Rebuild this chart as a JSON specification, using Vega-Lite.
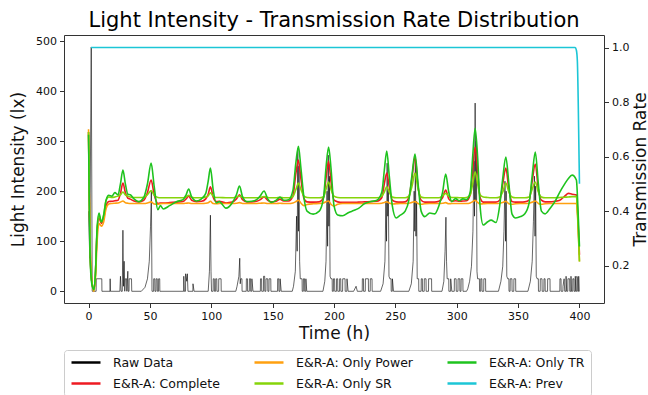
{
  "$schema": "https://vega.github.io/schema/vega-lite/v6.json",
  "width": 540,
  "height": 268,
  "autosize": {"type": "none"},
  "padding": {"left": 64, "top": 35, "right": 44, "bottom": 92},
  "title": {
    "text": "Light Intensity - Transmission Rate Distribution",
    "font": "DejaVu Sans",
    "fontSize": 21,
    "fontWeight": "normal",
    "color": "black",
    "anchor": "middle",
    "offset": 4
  },
  "datasets": {
    "raw": [
      {"t":0,"lx":160},{"t":1,"lx":66},{"t":2.2,"lx":488},{"t":3,"lx":0},{"t":6.2,"lx":0},{"t":6.3,"lx":25},{"t":10.8,"lx":25},{"t":10.9,"lx":0},
      {"t":17.5,"lx":0},{"t":17.6,"lx":25},{"t":17.8,"lx":0},{"t":25.5,"lx":0},{"t":26,"lx":30},{"t":26.5,"lx":0},{"t":27.5,"lx":0},{"t":28,"lx":122},
      {"t":28.5,"lx":10},{"t":29,"lx":60},{"t":29.5,"lx":0},{"t":30,"lx":25},{"t":31,"lx":25},{"t":31.2,"lx":0},{"t":32,"lx":40},{"t":32.3,"lx":0},
      {"t":33,"lx":0},{"t":33.1,"lx":25},{"t":35,"lx":25},{"t":35.2,"lx":0},{"t":43,"lx":0},{"t":46,"lx":8},{"t":48,"lx":25},{"t":49.5,"lx":60},
      {"t":50.5,"lx":130},{"t":51.2,"lx":200},{"t":51.7,"lx":0},{"t":53,"lx":0},{"t":53.1,"lx":25},{"t":54,"lx":25},{"t":54.1,"lx":0},{"t":55,"lx":0},
      {"t":55.1,"lx":25},{"t":56,"lx":25},{"t":56.1,"lx":0},{"t":57,"lx":0},{"t":57.1,"lx":25},{"t":58,"lx":25},{"t":58.1,"lx":0},{"t":77.5,"lx":0},
      {"t":77.6,"lx":30},{"t":78,"lx":0},{"t":79,"lx":0},{"t":79.1,"lx":35},{"t":80,"lx":20},{"t":80.5,"lx":35},{"t":81,"lx":0},{"t":85,"lx":0},
      {"t":85.1,"lx":15},{"t":86,"lx":0},{"t":97.5,"lx":0},{"t":98.5,"lx":40},{"t":99.3,"lx":152},{"t":99.8,"lx":40},{"t":100.2,"lx":0},{"t":101.5,"lx":0},
      {"t":101.6,"lx":25},{"t":102.5,"lx":25},{"t":102.6,"lx":0},{"t":103.5,"lx":0},{"t":103.6,"lx":25},{"t":104.5,"lx":25},{"t":104.6,"lx":0},{"t":106,"lx":0},
      {"t":106.1,"lx":25},{"t":108,"lx":25},{"t":108.1,"lx":0},{"t":120,"lx":0},{"t":121,"lx":10},{"t":122.5,"lx":30},{"t":123.2,"lx":66},{"t":123.6,"lx":15},
      {"t":124,"lx":25},{"t":125,"lx":25},{"t":125.1,"lx":0},{"t":128.5,"lx":0},{"t":128.6,"lx":25},{"t":129.5,"lx":25},{"t":129.6,"lx":0},{"t":131,"lx":0},
      {"t":131.1,"lx":25},{"t":132,"lx":25},{"t":132.1,"lx":0},{"t":133,"lx":0},{"t":133.1,"lx":25},{"t":134,"lx":0},{"t":140,"lx":0},{"t":140.1,"lx":25},
      {"t":141,"lx":25},{"t":141.1,"lx":0},{"t":142.5,"lx":0},{"t":142.6,"lx":30},{"t":143.5,"lx":30},{"t":143.6,"lx":0},{"t":144.5,"lx":0},{"t":144.6,"lx":25},
      {"t":146,"lx":25},{"t":146.1,"lx":0},{"t":147,"lx":0},{"t":147.1,"lx":25},{"t":148.5,"lx":25},{"t":148.6,"lx":0},{"t":154,"lx":0},{"t":154.1,"lx":25},
      {"t":155,"lx":25},{"t":155.1,"lx":0},{"t":156,"lx":0},{"t":156.1,"lx":25},{"t":157,"lx":0},{"t":166,"lx":0},{"t":167,"lx":10},{"t":168.5,"lx":40},
      {"t":169.5,"lx":150},{"t":170,"lx":80},{"t":170.5,"lx":285},{"t":171,"lx":120},{"t":171.5,"lx":250},{"t":172,"lx":60},{"t":172.5,"lx":25},{"t":174,"lx":25},
      {"t":174.1,"lx":0},{"t":175,"lx":0},{"t":175.1,"lx":25},{"t":176,"lx":25},{"t":176.1,"lx":0},{"t":177,"lx":0},{"t":177.1,"lx":25},{"t":177.8,"lx":0},
      {"t":191,"lx":0},{"t":192.5,"lx":20},{"t":193.5,"lx":60},{"t":194.3,"lx":200},{"t":194.8,"lx":90},{"t":195.3,"lx":272},{"t":195.8,"lx":130},{"t":196.3,"lx":230},
      {"t":196.8,"lx":30},{"t":197.5,"lx":25},{"t":198.5,"lx":25},{"t":198.6,"lx":0},{"t":199.5,"lx":0},{"t":199.6,"lx":25},{"t":200.5,"lx":25},{"t":200.6,"lx":0},
      {"t":202,"lx":0},{"t":202.1,"lx":25},{"t":203,"lx":25},{"t":203.1,"lx":0},{"t":204.5,"lx":0},{"t":204.6,"lx":25},{"t":205.5,"lx":25},{"t":205.6,"lx":0},
      {"t":207,"lx":0},{"t":207.1,"lx":25},{"t":209,"lx":25},{"t":209.1,"lx":0},{"t":210.5,"lx":0},{"t":210.6,"lx":25},{"t":211.5,"lx":0},{"t":216,"lx":0},
      {"t":218,"lx":10},{"t":219,"lx":0},{"t":223,"lx":0},{"t":223.1,"lx":25},{"t":224,"lx":25},{"t":224.1,"lx":0},{"t":225.5,"lx":0},{"t":225.6,"lx":25},
      {"t":228,"lx":25},{"t":228.1,"lx":0},{"t":229.5,"lx":0},{"t":229.6,"lx":25},{"t":231,"lx":25},{"t":231.1,"lx":0},{"t":238,"lx":0},{"t":240,"lx":15},
      {"t":241.5,"lx":60},{"t":242.3,"lx":180},{"t":242.8,"lx":100},{"t":243.3,"lx":256},{"t":243.8,"lx":150},{"t":244.3,"lx":200},{"t":244.8,"lx":30},{"t":245.5,"lx":25},
      {"t":246.5,"lx":25},{"t":246.6,"lx":0},{"t":247.5,"lx":0},{"t":247.6,"lx":25},{"t":248.5,"lx":0},{"t":261,"lx":0},{"t":263,"lx":15},{"t":264.5,"lx":60},
      {"t":265.3,"lx":200},{"t":265.8,"lx":120},{"t":266.3,"lx":262},{"t":266.8,"lx":110},{"t":267.3,"lx":180},{"t":267.8,"lx":25},{"t":269,"lx":25},{"t":269.1,"lx":0},
      {"t":271,"lx":0},{"t":271.1,"lx":25},{"t":272,"lx":25},{"t":272.1,"lx":0},{"t":273.5,"lx":0},{"t":273.6,"lx":25},{"t":275,"lx":25},{"t":275.1,"lx":0},
      {"t":277,"lx":0},{"t":277.1,"lx":25},{"t":279.5,"lx":25},{"t":279.6,"lx":0},{"t":288,"lx":0},{"t":289.5,"lx":20},{"t":290.5,"lx":80},{"t":291.2,"lx":148},
      {"t":291.7,"lx":60},{"t":292.2,"lx":25},{"t":293.5,"lx":25},{"t":293.6,"lx":0},{"t":295,"lx":0},{"t":295.1,"lx":25},{"t":296,"lx":0},{"t":298,"lx":0},
      {"t":298.1,"lx":25},{"t":299.5,"lx":25},{"t":299.6,"lx":0},{"t":301,"lx":0},{"t":301.1,"lx":25},{"t":302.5,"lx":25},{"t":302.6,"lx":0},{"t":303.5,"lx":0},
      {"t":303.6,"lx":25},{"t":305,"lx":25},{"t":305.1,"lx":0},{"t":308,"lx":0},{"t":309,"lx":5},{"t":310.5,"lx":20},{"t":312,"lx":50},{"t":313.2,"lx":120},
      {"t":314,"lx":260},{"t":314.5,"lx":150},{"t":315,"lx":376},{"t":315.5,"lx":180},{"t":316,"lx":300},{"t":316.5,"lx":40},{"t":317,"lx":25},{"t":318.5,"lx":25},
      {"t":318.6,"lx":0},{"t":319.5,"lx":0},{"t":319.6,"lx":25},{"t":320.5,"lx":25},{"t":320.6,"lx":0},{"t":322,"lx":0},{"t":322.1,"lx":25},{"t":323.5,"lx":25},
      {"t":323.6,"lx":0},{"t":334,"lx":0},{"t":336,"lx":20},{"t":337.5,"lx":50},{"t":338.5,"lx":120},{"t":339.3,"lx":220},{"t":339.8,"lx":100},{"t":340.3,"lx":200},
      {"t":340.8,"lx":30},{"t":341.5,"lx":25},{"t":342.5,"lx":25},{"t":342.6,"lx":0},{"t":343.5,"lx":0},{"t":343.6,"lx":25},{"t":345,"lx":25},{"t":345.1,"lx":0},
      {"t":346.5,"lx":0},{"t":346.6,"lx":25},{"t":348,"lx":25},{"t":348.1,"lx":0},{"t":358,"lx":0},{"t":360,"lx":20},{"t":361.5,"lx":60},{"t":362.5,"lx":140},
      {"t":363.3,"lx":230},{"t":363.8,"lx":110},{"t":364.3,"lx":210},{"t":364.8,"lx":30},{"t":365.5,"lx":25},{"t":366.5,"lx":25},{"t":366.6,"lx":0},{"t":368,"lx":0},
      {"t":368.1,"lx":25},{"t":369.5,"lx":25},{"t":369.6,"lx":0},{"t":371,"lx":0},{"t":371.1,"lx":25},{"t":372,"lx":25},{"t":372.1,"lx":0},{"t":374,"lx":0},
      {"t":374.1,"lx":25},{"t":376,"lx":25},{"t":376.1,"lx":0},{"t":384,"lx":0},{"t":384.1,"lx":25},{"t":385,"lx":25},{"t":385.1,"lx":0},{"t":386.5,"lx":0},
      {"t":386.6,"lx":10},{"t":387.5,"lx":25},{"t":388,"lx":0},{"t":389,"lx":0},{"t":389.1,"lx":30},{"t":389.6,"lx":0},{"t":390.5,"lx":0},{"t":390.6,"lx":25},
      {"t":392,"lx":25},{"t":392.1,"lx":0},{"t":393,"lx":0},{"t":393.1,"lx":30},{"t":393.5,"lx":0},{"t":394.5,"lx":0},{"t":394.6,"lx":25},{"t":395.5,"lx":25},
      {"t":395.6,"lx":0},{"t":396.5,"lx":0},{"t":396.6,"lx":30},{"t":397,"lx":0},{"t":397.8,"lx":0},{"t":397.9,"lx":30},{"t":398.5,"lx":25},{"t":398.6,"lx":0},
      {"t":399.3,"lx":0},{"t":399.4,"lx":30},{"t":399.8,"lx":0},{"t":400,"lx":0}
    ],
    "era": [
      {"t":0,"E&R-A: Complete":0.69,"E&R-A: Only Power":0.70,"E&R-A: Only SR":0.69,"E&R-A: Only TR":0.68},
      {"t":0.6,"E&R-A: Complete":0.45,"E&R-A: Only Power":0.47,"E&R-A: Only SR":0.45,"E&R-A: Only TR":0.42},
      {"t":1.5,"E&R-A: Complete":0.22,"E&R-A: Only Power":0.24,"E&R-A: Only SR":0.22,"E&R-A: Only TR":0.20},
      {"t":3,"E&R-A: Complete":0.13,"E&R-A: Only Power":0.13,"E&R-A: Only SR":0.13,"E&R-A: Only TR":0.125},
      {"t":4.4,"E&R-A: Complete":0.112,"E&R-A: Only Power":0.105,"E&R-A: Only SR":0.112,"E&R-A: Only TR":0.112},
      {"t":5.6,"E&R-A: Complete":0.17,"E&R-A: Only Power":0.15,"E&R-A: Only SR":0.17,"E&R-A: Only TR":0.17},
      {"t":7,"E&R-A: Complete":0.33,"E&R-A: Only Power":0.29,"E&R-A: Only SR":0.33,"E&R-A: Only TR":0.34},
      {"t":8.5,"E&R-A: Complete":0.375,"E&R-A: Only Power":0.355,"E&R-A: Only SR":0.385,"E&R-A: Only TR":0.393},
      {"t":10.5,"E&R-A: Complete":0.355,"E&R-A: Only Power":0.345,"E&R-A: Only SR":0.36,"E&R-A: Only TR":0.36},
      {"t":12.3,"E&R-A: Complete":0.375,"E&R-A: Only Power":0.36,"E&R-A: Only SR":0.385,"E&R-A: Only TR":0.385},
      {"t":14.3,"E&R-A: Complete":0.42,"E&R-A: Only Power":0.41,"E&R-A: Only SR":0.44,"E&R-A: Only TR":0.44},
      {"t":16.5,"E&R-A: Complete":0.435,"E&R-A: Only Power":0.426,"E&R-A: Only SR":0.452,"E&R-A: Only TR":0.458},
      {"t":19,"E&R-A: Complete":0.436,"E&R-A: Only Power":0.428,"E&R-A: Only SR":0.45,"E&R-A: Only TR":0.455},
      {"t":21.5,"E&R-A: Complete":0.438,"E&R-A: Only Power":0.429,"E&R-A: Only SR":0.452,"E&R-A: Only TR":0.468},
      {"t":24,"E&R-A: Complete":0.44,"E&R-A: Only Power":0.43,"E&R-A: Only SR":0.455,"E&R-A: Only TR":0.46},
      {"t":26,"E&R-A: Complete":0.465,"E&R-A: Only Power":0.433,"E&R-A: Only SR":0.46,"E&R-A: Only TR":0.50},
      {"t":28,"E&R-A: Complete":0.503,"E&R-A: Only Power":0.437,"E&R-A: Only SR":0.47,"E&R-A: Only TR":0.551},
      {"t":30,"E&R-A: Complete":0.468,"E&R-A: Only Power":0.431,"E&R-A: Only SR":0.46,"E&R-A: Only TR":0.50},
      {"t":32,"E&R-A: Complete":0.448,"E&R-A: Only Power":0.429,"E&R-A: Only SR":0.455,"E&R-A: Only TR":0.462},
      {"t":34,"E&R-A: Complete":0.444,"E&R-A: Only Power":0.428,"E&R-A: Only SR":0.452,"E&R-A: Only TR":0.46},
      {"t":37,"E&R-A: Complete":0.437,"E&R-A: Only Power":0.428,"E&R-A: Only SR":0.45,"E&R-A: Only TR":0.445},
      {"t":41,"E&R-A: Complete":0.434,"E&R-A: Only Power":0.428,"E&R-A: Only SR":0.45,"E&R-A: Only TR":0.435},
      {"t":45,"E&R-A: Complete":0.44,"E&R-A: Only Power":0.428,"E&R-A: Only SR":0.451,"E&R-A: Only TR":0.45},
      {"t":48,"E&R-A: Complete":0.468,"E&R-A: Only Power":0.43,"E&R-A: Only SR":0.46,"E&R-A: Only TR":0.50},
      {"t":51,"E&R-A: Complete":0.514,"E&R-A: Only Power":0.434,"E&R-A: Only SR":0.475,"E&R-A: Only TR":0.576},
      {"t":53.5,"E&R-A: Complete":0.46,"E&R-A: Only Power":0.426,"E&R-A: Only SR":0.458,"E&R-A: Only TR":0.49},
      {"t":56.5,"E&R-A: Complete":0.428,"E&R-A: Only Power":0.425,"E&R-A: Only SR":0.45,"E&R-A: Only TR":0.405},
      {"t":58.5,"E&R-A: Complete":0.43,"E&R-A: Only Power":0.427,"E&R-A: Only SR":0.449,"E&R-A: Only TR":0.42},
      {"t":61,"E&R-A: Complete":0.43,"E&R-A: Only Power":0.428,"E&R-A: Only SR":0.449,"E&R-A: Only TR":0.408},
      {"t":66,"E&R-A: Complete":0.431,"E&R-A: Only Power":0.428,"E&R-A: Only SR":0.449,"E&R-A: Only TR":0.42},
      {"t":72,"E&R-A: Complete":0.433,"E&R-A: Only Power":0.428,"E&R-A: Only SR":0.449,"E&R-A: Only TR":0.435},
      {"t":77,"E&R-A: Complete":0.435,"E&R-A: Only Power":0.428,"E&R-A: Only SR":0.449,"E&R-A: Only TR":0.442},
      {"t":79.5,"E&R-A: Complete":0.445,"E&R-A: Only Power":0.429,"E&R-A: Only SR":0.452,"E&R-A: Only TR":0.46},
      {"t":81.6,"E&R-A: Complete":0.455,"E&R-A: Only Power":0.43,"E&R-A: Only SR":0.458,"E&R-A: Only TR":0.481},
      {"t":84,"E&R-A: Complete":0.44,"E&R-A: Only Power":0.428,"E&R-A: Only SR":0.451,"E&R-A: Only TR":0.452},
      {"t":88,"E&R-A: Complete":0.435,"E&R-A: Only Power":0.428,"E&R-A: Only SR":0.449,"E&R-A: Only TR":0.437},
      {"t":92,"E&R-A: Complete":0.436,"E&R-A: Only Power":0.428,"E&R-A: Only SR":0.449,"E&R-A: Only TR":0.445},
      {"t":95.5,"E&R-A: Complete":0.445,"E&R-A: Only Power":0.429,"E&R-A: Only SR":0.452,"E&R-A: Only TR":0.465},
      {"t":97.5,"E&R-A: Complete":0.462,"E&R-A: Only Power":0.431,"E&R-A: Only SR":0.456,"E&R-A: Only TR":0.51},
      {"t":99.3,"E&R-A: Complete":0.489,"E&R-A: Only Power":0.436,"E&R-A: Only SR":0.467,"E&R-A: Only TR":0.558},
      {"t":101.5,"E&R-A: Complete":0.452,"E&R-A: Only Power":0.428,"E&R-A: Only SR":0.455,"E&R-A: Only TR":0.48},
      {"t":104,"E&R-A: Complete":0.435,"E&R-A: Only Power":0.427,"E&R-A: Only SR":0.45,"E&R-A: Only TR":0.43},
      {"t":106.5,"E&R-A: Complete":0.436,"E&R-A: Only Power":0.428,"E&R-A: Only SR":0.45,"E&R-A: Only TR":0.435},
      {"t":112,"E&R-A: Complete":0.43,"E&R-A: Only Power":0.428,"E&R-A: Only SR":0.449,"E&R-A: Only TR":0.411},
      {"t":117,"E&R-A: Complete":0.433,"E&R-A: Only Power":0.428,"E&R-A: Only SR":0.449,"E&R-A: Only TR":0.43},
      {"t":120.5,"E&R-A: Complete":0.445,"E&R-A: Only Power":0.429,"E&R-A: Only SR":0.452,"E&R-A: Only TR":0.46},
      {"t":123,"E&R-A: Complete":0.46,"E&R-A: Only Power":0.431,"E&R-A: Only SR":0.455,"E&R-A: Only TR":0.492},
      {"t":125.5,"E&R-A: Complete":0.442,"E&R-A: Only Power":0.428,"E&R-A: Only SR":0.451,"E&R-A: Only TR":0.452},
      {"t":129,"E&R-A: Complete":0.434,"E&R-A: Only Power":0.428,"E&R-A: Only SR":0.449,"E&R-A: Only TR":0.435},
      {"t":133,"E&R-A: Complete":0.434,"E&R-A: Only Power":0.428,"E&R-A: Only SR":0.449,"E&R-A: Only TR":0.436},
      {"t":137,"E&R-A: Complete":0.436,"E&R-A: Only Power":0.428,"E&R-A: Only SR":0.449,"E&R-A: Only TR":0.442},
      {"t":140,"E&R-A: Complete":0.442,"E&R-A: Only Power":0.429,"E&R-A: Only SR":0.45,"E&R-A: Only TR":0.456},
      {"t":143,"E&R-A: Complete":0.452,"E&R-A: Only Power":0.43,"E&R-A: Only SR":0.453,"E&R-A: Only TR":0.474},
      {"t":146,"E&R-A: Complete":0.44,"E&R-A: Only Power":0.428,"E&R-A: Only SR":0.45,"E&R-A: Only TR":0.445},
      {"t":149,"E&R-A: Complete":0.434,"E&R-A: Only Power":0.428,"E&R-A: Only SR":0.449,"E&R-A: Only TR":0.432},
      {"t":153,"E&R-A: Complete":0.436,"E&R-A: Only Power":0.428,"E&R-A: Only SR":0.449,"E&R-A: Only TR":0.44},
      {"t":156,"E&R-A: Complete":0.444,"E&R-A: Only Power":0.429,"E&R-A: Only SR":0.45,"E&R-A: Only TR":0.452},
      {"t":159,"E&R-A: Complete":0.437,"E&R-A: Only Power":0.428,"E&R-A: Only SR":0.449,"E&R-A: Only TR":0.44},
      {"t":163,"E&R-A: Complete":0.437,"E&R-A: Only Power":0.428,"E&R-A: Only SR":0.449,"E&R-A: Only TR":0.442},
      {"t":166.5,"E&R-A: Complete":0.455,"E&R-A: Only Power":0.43,"E&R-A: Only SR":0.453,"E&R-A: Only TR":0.475},
      {"t":169,"E&R-A: Complete":0.54,"E&R-A: Only Power":0.435,"E&R-A: Only SR":0.48,"E&R-A: Only TR":0.58},
      {"t":171,"E&R-A: Complete":0.587,"E&R-A: Only Power":0.44,"E&R-A: Only SR":0.503,"E&R-A: Only TR":0.638},
      {"t":173,"E&R-A: Complete":0.52,"E&R-A: Only Power":0.43,"E&R-A: Only SR":0.48,"E&R-A: Only TR":0.56},
      {"t":175.5,"E&R-A: Complete":0.447,"E&R-A: Only Power":0.42,"E&R-A: Only SR":0.455,"E&R-A: Only TR":0.45},
      {"t":178,"E&R-A: Complete":0.434,"E&R-A: Only Power":0.424,"E&R-A: Only SR":0.45,"E&R-A: Only TR":0.40},
      {"t":183,"E&R-A: Complete":0.433,"E&R-A: Only Power":0.427,"E&R-A: Only SR":0.449,"E&R-A: Only TR":0.389},
      {"t":188,"E&R-A: Complete":0.434,"E&R-A: Only Power":0.428,"E&R-A: Only SR":0.449,"E&R-A: Only TR":0.40},
      {"t":191.5,"E&R-A: Complete":0.45,"E&R-A: Only Power":0.43,"E&R-A: Only SR":0.453,"E&R-A: Only TR":0.45},
      {"t":193.5,"E&R-A: Complete":0.52,"E&R-A: Only Power":0.434,"E&R-A: Only SR":0.48,"E&R-A: Only TR":0.56},
      {"t":195.6,"E&R-A: Complete":0.584,"E&R-A: Only Power":0.437,"E&R-A: Only SR":0.507,"E&R-A: Only TR":0.635},
      {"t":197.5,"E&R-A: Complete":0.51,"E&R-A: Only Power":0.425,"E&R-A: Only SR":0.48,"E&R-A: Only TR":0.56},
      {"t":200,"E&R-A: Complete":0.44,"E&R-A: Only Power":0.418,"E&R-A: Only SR":0.455,"E&R-A: Only TR":0.42},
      {"t":203,"E&R-A: Complete":0.434,"E&R-A: Only Power":0.425,"E&R-A: Only SR":0.45,"E&R-A: Only TR":0.386},
      {"t":207,"E&R-A: Complete":0.432,"E&R-A: Only Power":0.428,"E&R-A: Only SR":0.449,"E&R-A: Only TR":0.383},
      {"t":212,"E&R-A: Complete":0.432,"E&R-A: Only Power":0.428,"E&R-A: Only SR":0.449,"E&R-A: Only TR":0.395},
      {"t":216,"E&R-A: Complete":0.432,"E&R-A: Only Power":0.428,"E&R-A: Only SR":0.449,"E&R-A: Only TR":0.402},
      {"t":220,"E&R-A: Complete":0.433,"E&R-A: Only Power":0.428,"E&R-A: Only SR":0.449,"E&R-A: Only TR":0.41},
      {"t":225,"E&R-A: Complete":0.434,"E&R-A: Only Power":0.428,"E&R-A: Only SR":0.449,"E&R-A: Only TR":0.428},
      {"t":230,"E&R-A: Complete":0.435,"E&R-A: Only Power":0.428,"E&R-A: Only SR":0.449,"E&R-A: Only TR":0.435},
      {"t":235,"E&R-A: Complete":0.436,"E&R-A: Only Power":0.428,"E&R-A: Only SR":0.449,"E&R-A: Only TR":0.44},
      {"t":239,"E&R-A: Complete":0.45,"E&R-A: Only Power":0.429,"E&R-A: Only SR":0.455,"E&R-A: Only TR":0.47},
      {"t":241,"E&R-A: Complete":0.50,"E&R-A: Only Power":0.432,"E&R-A: Only SR":0.47,"E&R-A: Only TR":0.55},
      {"t":243,"E&R-A: Complete":0.54,"E&R-A: Only Power":0.434,"E&R-A: Only SR":0.489,"E&R-A: Only TR":0.62},
      {"t":245,"E&R-A: Complete":0.49,"E&R-A: Only Power":0.43,"E&R-A: Only SR":0.47,"E&R-A: Only TR":0.53},
      {"t":247.5,"E&R-A: Complete":0.44,"E&R-A: Only Power":0.426,"E&R-A: Only SR":0.452,"E&R-A: Only TR":0.42},
      {"t":250.6,"E&R-A: Complete":0.434,"E&R-A: Only Power":0.427,"E&R-A: Only SR":0.449,"E&R-A: Only TR":0.375},
      {"t":254,"E&R-A: Complete":0.433,"E&R-A: Only Power":0.428,"E&R-A: Only SR":0.449,"E&R-A: Only TR":0.385},
      {"t":258,"E&R-A: Complete":0.434,"E&R-A: Only Power":0.428,"E&R-A: Only SR":0.449,"E&R-A: Only TR":0.40},
      {"t":261,"E&R-A: Complete":0.45,"E&R-A: Only Power":0.429,"E&R-A: Only SR":0.455,"E&R-A: Only TR":0.44},
      {"t":263.5,"E&R-A: Complete":0.52,"E&R-A: Only Power":0.432,"E&R-A: Only SR":0.49,"E&R-A: Only TR":0.53},
      {"t":266,"E&R-A: Complete":0.598,"E&R-A: Only Power":0.435,"E&R-A: Only SR":0.54,"E&R-A: Only TR":0.609},
      {"t":268.5,"E&R-A: Complete":0.49,"E&R-A: Only Power":0.428,"E&R-A: Only SR":0.48,"E&R-A: Only TR":0.50},
      {"t":271,"E&R-A: Complete":0.44,"E&R-A: Only Power":0.425,"E&R-A: Only SR":0.452,"E&R-A: Only TR":0.40},
      {"t":274,"E&R-A: Complete":0.433,"E&R-A: Only Power":0.427,"E&R-A: Only SR":0.449,"E&R-A: Only TR":0.38},
      {"t":278,"E&R-A: Complete":0.433,"E&R-A: Only Power":0.428,"E&R-A: Only SR":0.449,"E&R-A: Only TR":0.393},
      {"t":282,"E&R-A: Complete":0.433,"E&R-A: Only Power":0.428,"E&R-A: Only SR":0.449,"E&R-A: Only TR":0.39},
      {"t":285.5,"E&R-A: Complete":0.436,"E&R-A: Only Power":0.428,"E&R-A: Only SR":0.449,"E&R-A: Only TR":0.42},
      {"t":288.5,"E&R-A: Complete":0.45,"E&R-A: Only Power":0.429,"E&R-A: Only SR":0.456,"E&R-A: Only TR":0.47},
      {"t":291,"E&R-A: Complete":0.477,"E&R-A: Only Power":0.431,"E&R-A: Only SR":0.465,"E&R-A: Only TR":0.536},
      {"t":293.5,"E&R-A: Complete":0.445,"E&R-A: Only Power":0.427,"E&R-A: Only SR":0.455,"E&R-A: Only TR":0.47},
      {"t":296,"E&R-A: Complete":0.436,"E&R-A: Only Power":0.428,"E&R-A: Only SR":0.45,"E&R-A: Only TR":0.435},
      {"t":299,"E&R-A: Complete":0.438,"E&R-A: Only Power":0.428,"E&R-A: Only SR":0.45,"E&R-A: Only TR":0.446},
      {"t":302,"E&R-A: Complete":0.436,"E&R-A: Only Power":0.428,"E&R-A: Only SR":0.449,"E&R-A: Only TR":0.438},
      {"t":305,"E&R-A: Complete":0.437,"E&R-A: Only Power":0.428,"E&R-A: Only SR":0.449,"E&R-A: Only TR":0.445},
      {"t":308,"E&R-A: Complete":0.438,"E&R-A: Only Power":0.428,"E&R-A: Only SR":0.45,"E&R-A: Only TR":0.442},
      {"t":311,"E&R-A: Complete":0.46,"E&R-A: Only Power":0.43,"E&R-A: Only SR":0.46,"E&R-A: Only TR":0.47},
      {"t":313,"E&R-A: Complete":0.55,"E&R-A: Only Power":0.435,"E&R-A: Only SR":0.50,"E&R-A: Only TR":0.60},
      {"t":315,"E&R-A: Complete":0.635,"E&R-A: Only Power":0.44,"E&R-A: Only SR":0.544,"E&R-A: Only TR":0.704},
      {"t":317,"E&R-A: Complete":0.55,"E&R-A: Only Power":0.432,"E&R-A: Only SR":0.50,"E&R-A: Only TR":0.60},
      {"t":319,"E&R-A: Complete":0.45,"E&R-A: Only Power":0.426,"E&R-A: Only SR":0.46,"E&R-A: Only TR":0.42},
      {"t":321.6,"E&R-A: Complete":0.433,"E&R-A: Only Power":0.427,"E&R-A: Only SR":0.452,"E&R-A: Only TR":0.349},
      {"t":325,"E&R-A: Complete":0.433,"E&R-A: Only Power":0.428,"E&R-A: Only SR":0.45,"E&R-A: Only TR":0.36},
      {"t":328,"E&R-A: Complete":0.433,"E&R-A: Only Power":0.428,"E&R-A: Only SR":0.449,"E&R-A: Only TR":0.367},
      {"t":332,"E&R-A: Complete":0.433,"E&R-A: Only Power":0.428,"E&R-A: Only SR":0.449,"E&R-A: Only TR":0.358},
      {"t":335,"E&R-A: Complete":0.44,"E&R-A: Only Power":0.429,"E&R-A: Only SR":0.452,"E&R-A: Only TR":0.42},
      {"t":337.5,"E&R-A: Complete":0.50,"E&R-A: Only Power":0.432,"E&R-A: Only SR":0.47,"E&R-A: Only TR":0.52},
      {"t":340,"E&R-A: Complete":0.558,"E&R-A: Only Power":0.436,"E&R-A: Only SR":0.503,"E&R-A: Only TR":0.598},
      {"t":342.5,"E&R-A: Complete":0.48,"E&R-A: Only Power":0.427,"E&R-A: Only SR":0.47,"E&R-A: Only TR":0.50},
      {"t":345,"E&R-A: Complete":0.435,"E&R-A: Only Power":0.425,"E&R-A: Only SR":0.452,"E&R-A: Only TR":0.39},
      {"t":348,"E&R-A: Complete":0.433,"E&R-A: Only Power":0.427,"E&R-A: Only SR":0.449,"E&R-A: Only TR":0.375},
      {"t":352,"E&R-A: Complete":0.433,"E&R-A: Only Power":0.428,"E&R-A: Only SR":0.449,"E&R-A: Only TR":0.38},
      {"t":355.5,"E&R-A: Complete":0.434,"E&R-A: Only Power":0.428,"E&R-A: Only SR":0.449,"E&R-A: Only TR":0.39},
      {"t":359,"E&R-A: Complete":0.44,"E&R-A: Only Power":0.429,"E&R-A: Only SR":0.452,"E&R-A: Only TR":0.43},
      {"t":361.5,"E&R-A: Complete":0.51,"E&R-A: Only Power":0.433,"E&R-A: Only SR":0.48,"E&R-A: Only TR":0.53},
      {"t":364,"E&R-A: Complete":0.573,"E&R-A: Only Power":0.437,"E&R-A: Only SR":0.507,"E&R-A: Only TR":0.617},
      {"t":366.5,"E&R-A: Complete":0.48,"E&R-A: Only Power":0.428,"E&R-A: Only SR":0.47,"E&R-A: Only TR":0.50},
      {"t":369,"E&R-A: Complete":0.44,"E&R-A: Only Power":0.425,"E&R-A: Only SR":0.452,"E&R-A: Only TR":0.40},
      {"t":372,"E&R-A: Complete":0.434,"E&R-A: Only Power":0.427,"E&R-A: Only SR":0.449,"E&R-A: Only TR":0.39},
      {"t":376,"E&R-A: Complete":0.434,"E&R-A: Only Power":0.428,"E&R-A: Only SR":0.449,"E&R-A: Only TR":0.41},
      {"t":380,"E&R-A: Complete":0.436,"E&R-A: Only Power":0.428,"E&R-A: Only SR":0.449,"E&R-A: Only TR":0.435},
      {"t":384,"E&R-A: Complete":0.44,"E&R-A: Only Power":0.428,"E&R-A: Only SR":0.45,"E&R-A: Only TR":0.47},
      {"t":388,"E&R-A: Complete":0.455,"E&R-A: Only Power":0.428,"E&R-A: Only SR":0.451,"E&R-A: Only TR":0.50},
      {"t":391,"E&R-A: Complete":0.465,"E&R-A: Only Power":0.428,"E&R-A: Only SR":0.452,"E&R-A: Only TR":0.52},
      {"t":394,"E&R-A: Complete":0.462,"E&R-A: Only Power":0.428,"E&R-A: Only SR":0.453,"E&R-A: Only TR":0.532},
      {"t":397.5,"E&R-A: Complete":0.46,"E&R-A: Only Power":0.428,"E&R-A: Only SR":0.453,"E&R-A: Only TR":0.514},
      {"t":398.7,"E&R-A: Complete":0.38,"E&R-A: Only Power":0.36,"E&R-A: Only SR":0.37,"E&R-A: Only TR":0.42},
      {"t":400,"E&R-A: Complete":0.24,"E&R-A: Only Power":0.215,"E&R-A: Only SR":0.215,"E&R-A: Only TR":0.27}
    ],
    "prev": [
      {"t":2,"v":1.0},{"t":396.5,"v":1.0},{"t":397.5,"v":0.99},{"t":398.3,"v":0.95},{"t":399,"v":0.8},{"t":399.5,"v":0.65},{"t":400,"v":0.5}
    ]
  },
  "layer": [
    {
      "data": {"name": "raw"},
      "mark": {"type": "line", "strokeWidth": 0.6, "clip": true},
      "encoding": {
        "x": {
          "field": "t", "type": "quantitative",
          "scale": {"domain": [-20, 420], "nice": false, "zero": false},
          "axis": {"title": "Time (h)", "values": [0, 50, 100, 150, 200, 250, 300, 350, 400], "titlePadding": 4}
        },
        "y": {
          "field": "lx", "type": "quantitative",
          "scale": {"domain": [-23.4, 512], "nice": false, "zero": false},
          "axis": {"title": "Light Intensity (lx)", "orient": "left", "values": [0, 100, 200, 300, 400, 500], "titlePadding": 8}
        },
        "color": {
          "datum": "Raw Data", "type": "nominal",
          "scale": {
            "domain": ["Raw Data", "E&R-A: Complete", "E&R-A: Only Power", "E&R-A: Only SR", "E&R-A: Only TR", "E&R-A: Prev"],
            "range": ["#000000", "#ee1a22", "#ffa010", "#86d40a", "#1ec31e", "#1cc6d6"]
          },
          "legend": {"title": null}
        }
      }
    },
    {
      "layer": [
        {
          "data": {"name": "era"},
          "transform": [
            {"fold": ["E&R-A: Complete", "E&R-A: Only Power", "E&R-A: Only SR", "E&R-A: Only TR"], "as": ["s", "v"]}
          ],
          "mark": {"type": "line", "strokeWidth": 1.6, "interpolate": "monotone", "clip": true},
          "encoding": {
            "x": {"field": "t", "type": "quantitative"},
            "y": {
              "field": "v", "type": "quantitative",
              "scale": {"domain": [0.063, 1.046], "nice": false, "zero": false},
              "axis": {
                "title": "Transmission Rate", "orient": "right",
                "values": [0.2, 0.4, 0.6, 0.8, 1.0], "format": ".1f",
                "titleAngle": 270, "titleBaseline": "top", "titlePadding": 4
              }
            },
            "color": {
              "field": "s", "type": "nominal",
              "scale": {
                "domain": ["Raw Data", "E&R-A: Complete", "E&R-A: Only Power", "E&R-A: Only SR", "E&R-A: Only TR", "E&R-A: Prev"],
                "range": ["#000000", "#ee1a22", "#ffa010", "#86d40a", "#1ec31e", "#1cc6d6"]
              },
              "legend": {"title": null}
            }
          }
        },
        {
          "data": {"name": "prev"},
          "mark": {"type": "line", "strokeWidth": 1.6, "interpolate": "monotone", "clip": true},
          "encoding": {
            "x": {"field": "t", "type": "quantitative"},
            "y": {"field": "v", "type": "quantitative"},
            "color": {
              "datum": "E&R-A: Prev", "type": "nominal",
              "scale": {
                "domain": ["Raw Data", "E&R-A: Complete", "E&R-A: Only Power", "E&R-A: Only SR", "E&R-A: Only TR", "E&R-A: Prev"],
                "range": ["#000000", "#ee1a22", "#ffa010", "#86d40a", "#1ec31e", "#1cc6d6"]
              },
              "legend": {"title": null}
            }
          }
        }
      ]
    }
  ],
  "resolve": {"scale": {"y": "independent"}},
  "config": {
    "font": "DejaVu Sans",
    "view": {"stroke": "#333333", "strokeWidth": 1},
    "axis": {
      "labelFont": "DejaVu Sans",
      "labelFontSize": 11,
      "labelColor": "#111111",
      "titleFont": "DejaVu Sans",
      "titleFontSize": 17,
      "titleFontWeight": "normal",
      "titleColor": "#111111",
      "tickColor": "#333333",
      "tickSize": 4.5,
      "labelPadding": 3,
      "domain": false,
      "grid": false
    },
    "legend": {
      "orient": "none",
      "legendX": 0,
      "legendY": 315,
      "columns": 3,
      "symbolType": "M-1,0H4.8",
      "symbolSize": 100,
      "symbolStrokeWidth": 2.5,
      "labelFont": "DejaVu Sans",
      "labelFontSize": 12.5,
      "labelColor": "#111111",
      "labelOffset": 30,
      "columnPadding": 29,
      "rowPadding": 8,
      "padding": 6,
      "fillColor": "white",
      "strokeColor": "#cccccc",
      "cornerRadius": 3
    }
  }
}
